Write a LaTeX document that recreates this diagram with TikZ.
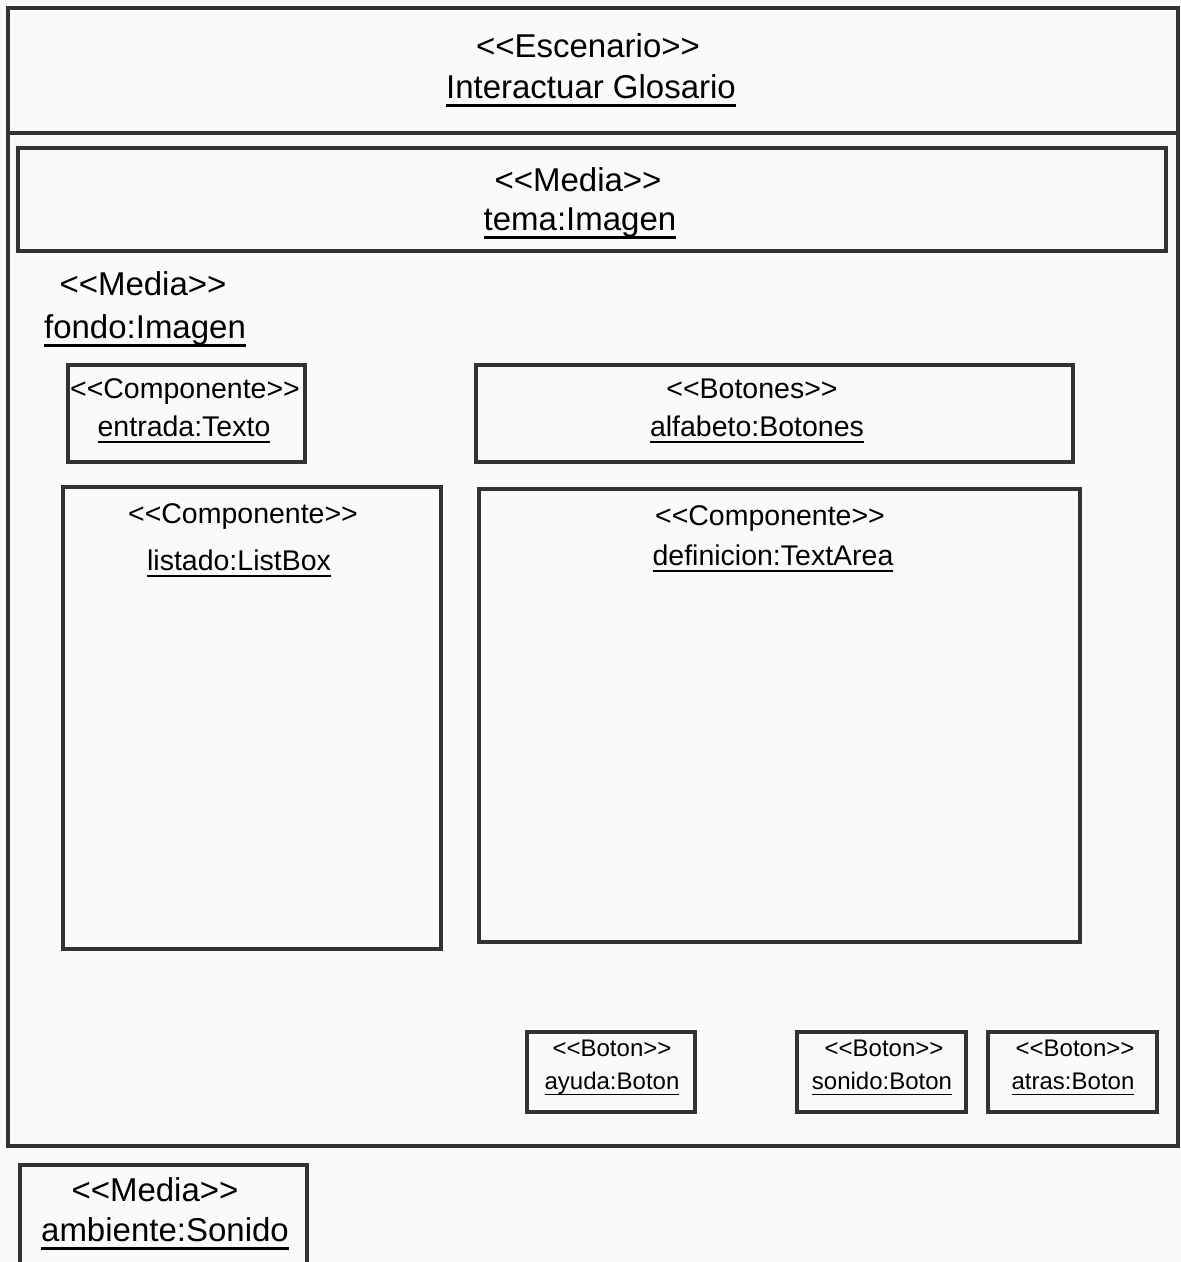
\documentclass[tikz,border=0pt]{standalone}
\usepackage{fontspec}
\setmainfont{Liberation Sans}
\definecolor{ink}{HTML}{333333}
\definecolor{paper}{HTML}{FAFAFA}
% underlined instance name: rule at a fixed depth below the baseline
\newcommand\instname[1]{\setbox0\hbox{#1}\rlap{\rule[-0.26em]{\wd0}{0.07em}}\box0}
% stereotype in plain double angle brackets (kerns keep << and >> apart)
\newcommand\stereo[1]{<\kern0pt<#1>\kern0pt>}
\tikzset{
  umlbox/.style={draw=ink, line width=3.6pt, rectangle, inner sep=0pt},
  frame/.style={draw=ink, line width=4pt},
  big/.style={anchor=base, inner sep=0pt, text=black, font=\fontsize{33}{38}\selectfont},
  mid/.style={anchor=base, inner sep=0pt, text=black, font=\fontsize{28.5}{33}\selectfont},
  small/.style={anchor=base, inner sep=0pt, text=black, font=\fontsize{24}{28}\selectfont},
}
\begin{document}
\begin{tikzpicture}[x=1pt, y=-1pt]
  \fill[paper] (0,0) rectangle (1181,1262);
  \useasboundingbox (0,0) rectangle (1181,1262);

  % scenario frame with its title compartment
  \node[umlbox, frame, minimum width=1170, minimum height=1138] (escenario) at (593,577) {};
  \draw[frame] ([yshift=-127pt]escenario.north west) -- ([yshift=-127pt]escenario.north east);
  \node[big] (escST) at (588,57) {\stereo{Escenario}};
  \node[big] (escN) at (591,98) {\instname{Interactuar Glosario}};

  % media header
  \node[umlbox, minimum width=1148, minimum height=103] (tema) at (592,199.5) {};
  \node[big] (temaST) at (578,191) {\stereo{Media}};
  \node[big] (temaN) at (580,230) {\instname{tema:Imagen}};

  % background media (no box)
  \node[big] (fondoST) at (143,295) {\stereo{Media}};
  \node[big] (fondoN) at (145,338) {\instname{fondo:Imagen}};

  % text input
  \node[umlbox, minimum width=237, minimum height=97] (entrada) at (186.5,413.5) {};
  \node[mid] (entradaST) at (185,398) {\stereo{Componente}};
  \node[mid] (entradaN) at (184,436) {\instname{entrada:Texto}};

  % alphabet buttons
  \node[umlbox, minimum width=597, minimum height=97] (alfabeto) at (774.5,413.5) {};
  \node[mid] (alfabetoST) at (752,398) {\stereo{Botones}};
  \node[mid] (alfabetoN) at (757,436) {\instname{alfabeto:Botones}};

  % word list
  \node[umlbox, minimum width=378, minimum height=462] (listado) at (252,718) {};
  \node[mid] (listadoST) at (243,523) {\stereo{Componente}};
  \node[mid] (listadoN) at (239,570) {\instname{listado:ListBox}};

  % definition area
  \node[umlbox, minimum width=601, minimum height=453] (definicion) at (779.5,715.5) {};
  \node[mid] (definicionST) at (770,525) {\stereo{Componente}};
  \node[mid] (definicionN) at (773,565) {\instname{definicion:TextArea}};

  % bottom buttons
  \node[umlbox, minimum width=168, minimum height=80] (ayuda) at (611,1072) {};
  \node[small] (ayudaST) at (612,1056) {\stereo{Boton}};
  \node[small] (ayudaN) at (612,1089) {\instname{ayuda:Boton}};

  \node[umlbox, minimum width=169, minimum height=80] (sonido) at (881.5,1072) {};
  \node[small] (sonidoST) at (884,1056) {\stereo{Boton}};
  \node[small] (sonidoN) at (882,1089) {\instname{sonido:Boton}};

  \node[umlbox, minimum width=169, minimum height=80] (atras) at (1072.5,1072) {};
  \node[small] (atrasST) at (1075,1056) {\stereo{Boton}};
  \node[small] (atrasN) at (1073,1089) {\instname{atras:Boton}};

  % ambient sound, outside the scenario
  \node[umlbox, minimum width=287, minimum height=115] (ambiente) at (163.5,1222.5) {};
  \node[big] (ambienteST) at (155,1201) {\stereo{Media}};
  \node[big] (ambienteN) at (165,1241) {\instname{ambiente:Sonido}};
\end{tikzpicture}
\end{document}
